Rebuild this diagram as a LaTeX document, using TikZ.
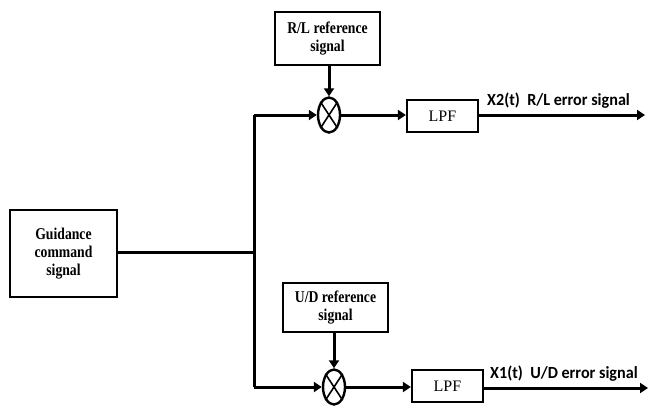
\documentclass[tikz,border=0pt]{standalone}
\usepackage{fontspec}
\setmainfont{Liberation Serif}
\newfontfamily\boxfont{Liberation Serif}[FakeStretch=0.83]
\newfontfamily\labfont{Carlito}[FakeStretch=0.95]
\usetikzlibrary{shapes.geometric,arrows.meta}
\begin{document}
\begin{tikzpicture}[x=1pt,y=-1pt,
  blk/.style={draw,line width=2.4pt,rectangle,align=center,inner sep=0pt,
    font=\boxfont\fontsize{16.5}{18}\selectfont\bfseries},
  lpfbox/.style={draw,line width=2.2pt,rectangle,inner sep=0pt,minimum width=71pt,minimum height=32pt,
    font=\fontsize{16}{18}\selectfont},
  mult/.style={draw,line width=2.4pt,ellipse,inner sep=0pt,minimum width=22pt,minimum height=35pt},
  wire/.style={line width=3pt},
  arr/.style={line width=3pt,-{Triangle[length=8pt,width=10pt]}},
  lab/.style={font=\labfont\fontsize{17}{19}\selectfont\bfseries,anchor=base west,inner sep=0pt}
]
\useasboundingbox (0,0) rectangle (650,408);
\node[blk,minimum width=107pt,minimum height=87pt] (guid) at (63.5,253.5) {Guidance\\command\\signal};
\node[blk,minimum width=105pt,minimum height=53pt] (rl) at (327.5,38.5) {R/L reference\\signal};
\node[blk,minimum width=105pt,minimum height=49pt] (ud) at (335.5,307.5) {U/D reference\\signal};
\node[mult] (mt) at (329,115) {};
\node[mult] (mb) at (334,387) {};
\draw[line width=1.6pt] (mt.north west) -- (mt.south east) (mt.north east) -- (mt.south west);
\draw[line width=1.6pt] (mb.north west) -- (mb.south east) (mb.north east) -- (mb.south west);
\node[lpfbox] (lt) at (442.5,116) {LPF};
\node[lpfbox] (lb) at (447.5,386) {LPF};
\coordinate (jt) at (254,115);
\coordinate (jm) at (254,252);
\coordinate (jb) at (254,387);
\coordinate (ot) at (645,115);
\coordinate (ob) at (648,388);
\draw[wire] (guid.east |- jm) -- (jm);
\draw[wire] (jt) -- (jb);
\draw[arr] (jt) -- (mt.west);
\draw[arr] (jb) -- (mb.west);
\draw[arr] (rl.south -| mt.north) -- (mt.north);
\draw[arr] (ud.south -| mb.north) -- (mb.north);
\draw[arr] (mt.east) -- (mt.east -| lt.west);
\draw[arr] (mb.east) -- (mb.east -| lb.west);
\draw[arr] (lt.east |- ot) -- (ot);
\draw[arr] (lb.east |- ob) -- (ob);
\node[lab] (l2) at (487,105) {X2(t)\ \ R/L error signal};
\node[lab] (l1) at (490,378) {X1(t)\ \ U/D error signal};
\end{tikzpicture}
\end{document}
